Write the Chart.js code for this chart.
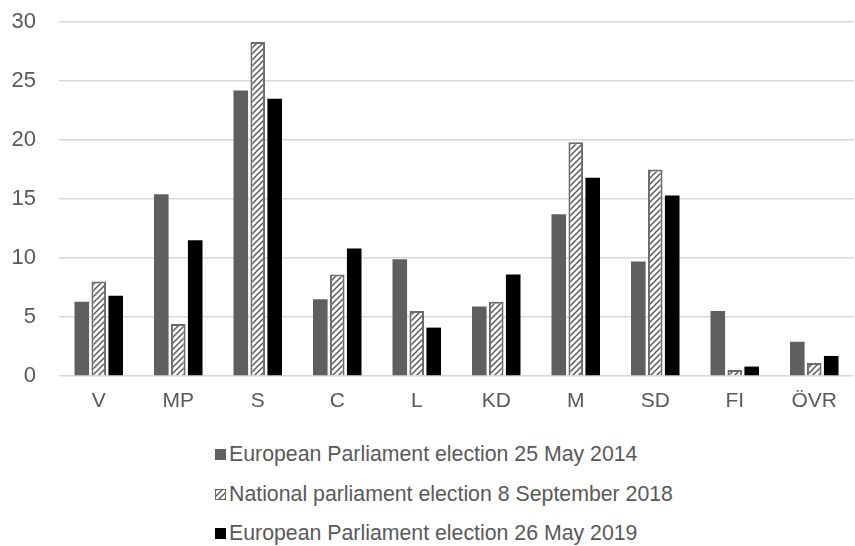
<!DOCTYPE html>
<html>
<head>
<meta charset="utf-8">
<title>Swedish election results by party</title>
<script src="https://cdn.jsdelivr.net/npm/chart.js@4"></script>
<style>
  body { margin: 0; background: #fff; font-family: "Liberation Sans", Arial, sans-serif; }
  #wrap { position: relative; width: 855px; height: 546px; }
  #chartBox { position: absolute; left: 0; top: 0; width: 855px; height: 420px; }
  #legend { position: absolute; left: 215px; top: 435px; color: #595959; font-size: 21.3px; }
  .row { height: 39.5px; display: flex; align-items: center; white-space: nowrap; }
  .sw { display: inline-block; width: 11px; height: 11px; margin-right: 3px; box-sizing: border-box; }
</style>
</head>
<body>
<div id="wrap">
  <div id="chartBox"><canvas id="myChart"></canvas></div>
  <div id="legend"></div>
</div>
<script>
const parties = ['V', 'MP', 'S', 'C', 'L', 'KD', 'M', 'SD', 'FI', 'ÖVR'];
const ep2014 = [6.3, 15.4, 24.2, 6.5, 9.9, 5.9, 13.7, 9.7, 5.5, 2.9];
const riks2018 = [8.0, 4.4, 28.3, 8.6, 5.5, 6.3, 19.8, 17.5, 0.5, 1.1];
const ep2019 = [6.8, 11.5, 23.5, 10.8, 4.1, 8.6, 16.8, 15.3, 0.8, 1.7];
const seriesNames = [
    'European Parliament election 25 May 2014',
    'National parliament election 8 September 2018',
    'European Parliament election 26 May 2019'
];
const yMax = 30;
const yStep = 5;

const textColor = '#595959';
Chart.defaults.font.family = '"Liberation Sans", Arial, sans-serif';

// small tile with "/" stripes for the 2018 bars
function hatchTile(){
    const n = 6;
    const c = document.createElement('canvas');
    c.width = n; c.height = n;
    const g = c.getContext('2d');
    g.fillStyle = '#fff';
    g.fillRect(0, 0, n, n);
    g.strokeStyle = '#5a5a5a';
    g.lineWidth = 1.5;
    g.beginPath();
    g.moveTo(-1, n + 1); g.lineTo(n + 1, -1);
    g.moveTo(-1, 1); g.lineTo(1, -1);
    g.moveTo(n - 1, n + 1); g.lineTo(n + 1, n - 1);
    g.stroke();
    return c;
}
const tile = hatchTile();
const ctx = document.getElementById('myChart').getContext('2d');
const hatch = ctx.createPattern(tile, 'repeat');

const series = [
    { label: seriesNames[0], data: ep2014, backgroundColor: '#5f5f5f', borderWidth: 0 },
    { label: seriesNames[1], data: riks2018, backgroundColor: hatch, borderColor: '#6b6b6b', borderWidth: 2 },
    { label: seriesNames[2], data: ep2019, backgroundColor: '#000000', borderWidth: 0 }
];

const myChart = new Chart(ctx, {
    type: 'bar',
    data: {
        labels: parties,
        datasets: series.map(s => Object.assign({ categoryPercentage: 0.64, barPercentage: 0.86 }, s))
    },
    options: {
        responsive: true,
        maintainAspectRatio: false,
        animation: false,
        layout: { padding: { top: 22, right: 1, left: 0, bottom: 0 } },
        plugins: {
            legend: { display: false },
            tooltip: { enabled: false }
        },
        scales: {
            x: {
                grid: { display: false, drawTicks: false },
                border: { display: false },
                ticks: { color: textColor, font: { size: 21 }, padding: 13 },
                afterFit: scale => { scale.height = 44; }
            },
            y: {
                min: 0,
                max: yMax,
                grid: { color: '#d9d9d9', lineWidth: 1.5, drawTicks: false },
                border: { display: false },
                ticks: { stepSize: yStep, color: textColor, font: { size: 22 }, padding: 23 },
                afterFit: scale => {
                    scale.width = 59;
                    scale.paddingTop = 0;
                    scale.paddingBottom = 0;
                }
            }
        }
    }
});

// legend rows under the chart
const legend = document.getElementById('legend');
const swatchCss = [
    'background:#5f5f5f',
    'background:url(' + tile.toDataURL() + ');border:1.5px solid #6b6b6b',
    'background:#000'
];
seriesNames.forEach((name, i) => {
    const row = document.createElement('div');
    row.className = 'row';
    row.innerHTML = '<span class="sw" style="' + swatchCss[i] + '"></span>' + name;
    legend.appendChild(row);
});
</script>
</body>
</html>
